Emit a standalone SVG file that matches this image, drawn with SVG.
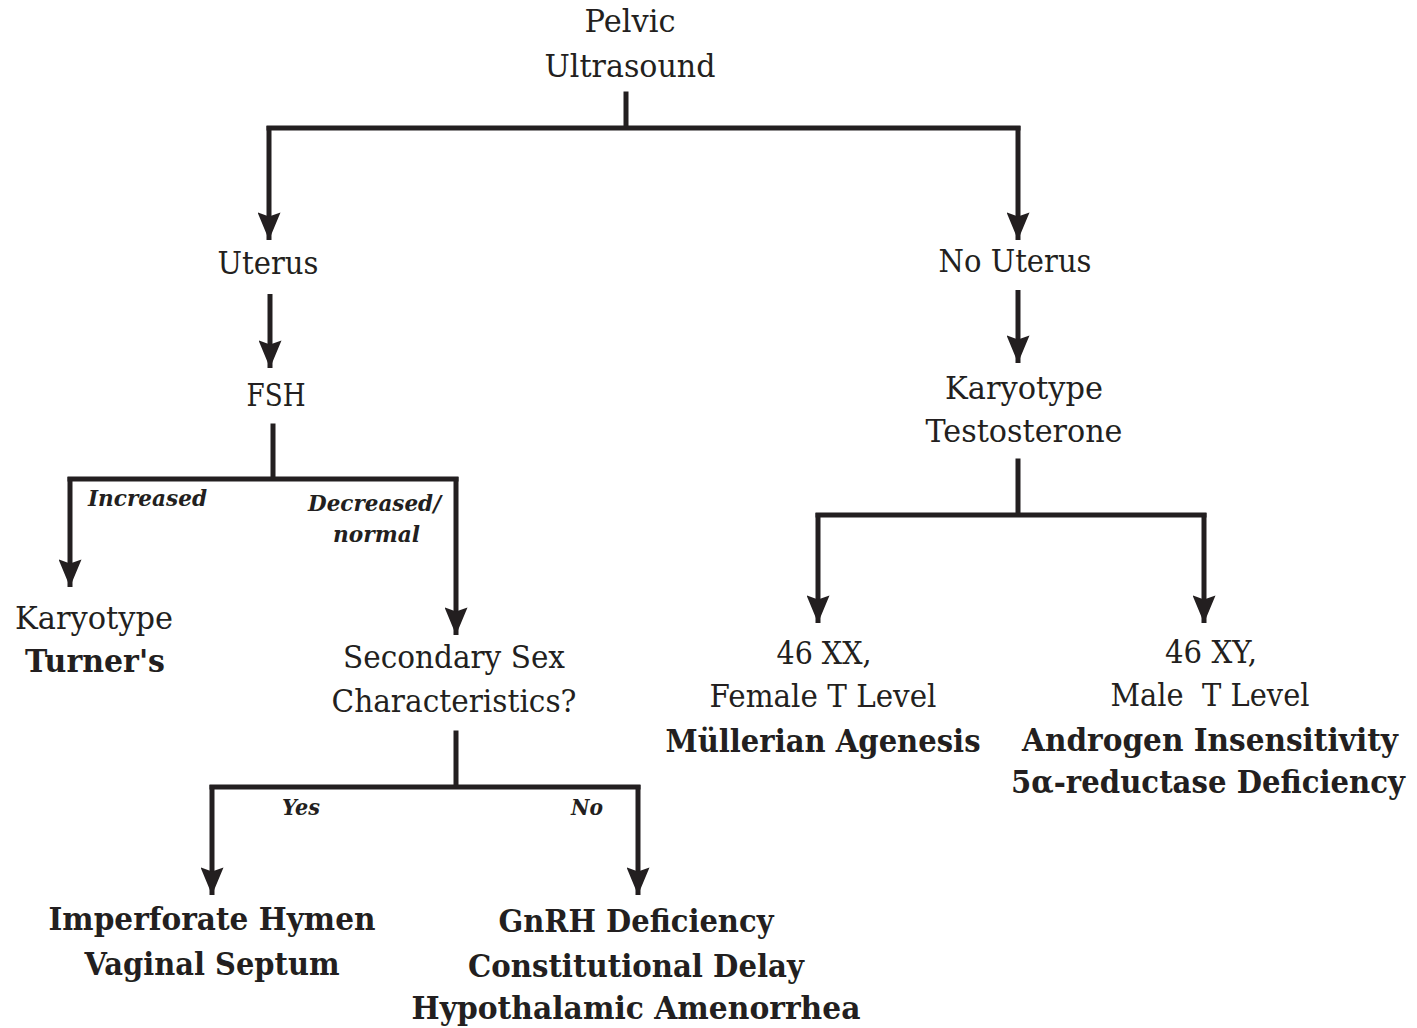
<svg xmlns="http://www.w3.org/2000/svg" width="1417" height="1028" viewBox="0 0 1417 1028">
  <style>
    text { font-family: "DejaVu Serif", "Liberation Serif", serif; fill: #231f20; text-anchor: middle; }
    .r { font-size: 31px; }
    .b { font-size: 31px; font-weight: bold; }
    .lbl { font-size: 22px; font-weight: bold; font-style: italic; text-anchor: start; }
    .ln { fill: none; stroke: #231f20; stroke-width: 5; stroke-linecap: square; }
    .ar { fill: none; stroke: #231f20; stroke-width: 5; stroke-linecap: butt; }
  </style>
  <defs>
    <marker id="ah" viewBox="0 0 12 10" refX="12" refY="5" markerWidth="6.4" markerHeight="4.6" markerUnits="strokeWidth" orient="auto">
      <path d="M0,0 L1.8,5 L0,10 L12,5 Z" fill="#231f20"/>
    </marker>
  </defs>

  <!-- connectors: trunk lines, bars and arrowed drops -->
  <g id="connectors">
    <path class="ln" d="M626,94 V128 M269,128 H1018"/>
    <path class="ar" d="M269,126 V240" marker-end="url(#ah)"/>
    <path class="ar" d="M1018,126 V240" marker-end="url(#ah)"/>
    <path class="ar" d="M270,294 V368" marker-end="url(#ah)"/>
    <path class="ar" d="M1018,290 V363" marker-end="url(#ah)"/>
    <path class="ln" d="M273,426 V479 M70,479 H456"/>
    <path class="ar" d="M70,477 V587" marker-end="url(#ah)"/>
    <path class="ar" d="M456,477 V635" marker-end="url(#ah)"/>
    <path class="ln" d="M1018,461 V515 M818,515 H1204"/>
    <path class="ar" d="M818,513 V623" marker-end="url(#ah)"/>
    <path class="ar" d="M1204,513 V623" marker-end="url(#ah)"/>
    <path class="ln" d="M456,733 V787 M212,787 H638"/>
    <path class="ar" d="M212,785 V895" marker-end="url(#ah)"/>
    <path class="ar" d="M638,785 V895" marker-end="url(#ah)"/>
  </g>

  <!-- branch labels -->
  <g id="branch-labels">
    <text class="lbl" x="88" y="506" textLength="119" lengthAdjust="spacingAndGlyphs">Increased</text>
    <text class="lbl" x="308" y="511" textLength="133" lengthAdjust="spacingAndGlyphs">Decreased/</text>
    <text class="lbl" x="333" y="542" textLength="87" lengthAdjust="spacingAndGlyphs">normal</text>
    <text class="lbl" x="282" y="815" textLength="38" lengthAdjust="spacingAndGlyphs">Yes</text>
    <text class="lbl" x="571" y="815" textLength="32" lengthAdjust="spacingAndGlyphs">No</text>
  </g>

  <g id="pelvic-ultrasound">
    <text class="r" x="630" y="32" textLength="91" lengthAdjust="spacingAndGlyphs">Pelvic</text>
    <text class="r" x="630" y="77" textLength="171" lengthAdjust="spacingAndGlyphs">Ultrasound</text>
  </g>
  <g id="uterus">
    <text class="r" x="268" y="274" textLength="101" lengthAdjust="spacingAndGlyphs">Uterus</text>
  </g>
  <g id="no-uterus">
    <text class="r" x="1015" y="272" textLength="153" lengthAdjust="spacingAndGlyphs">No Uterus</text>
  </g>
  <g id="fsh">
    <text class="r" x="276" y="406" textLength="59" lengthAdjust="spacingAndGlyphs">FSH</text>
  </g>
  <g id="karyotype-testosterone">
    <text class="r" x="1024" y="399" textLength="158" lengthAdjust="spacingAndGlyphs">Karyotype</text>
    <text class="r" x="1024" y="442" textLength="197" lengthAdjust="spacingAndGlyphs">Testosterone</text>
  </g>
  <g id="turners">
    <text class="r" x="94" y="629" textLength="158" lengthAdjust="spacingAndGlyphs">Karyotype</text>
    <text class="b" x="95" y="672" textLength="140" lengthAdjust="spacingAndGlyphs">Turner's</text>
  </g>
  <g id="secondary-sex">
    <text class="r" x="454" y="668" textLength="222" lengthAdjust="spacingAndGlyphs">Secondary Sex</text>
    <text class="r" x="454" y="712" textLength="245" lengthAdjust="spacingAndGlyphs">Characteristics?</text>
  </g>
  <g id="xx">
    <text class="r" x="824" y="664" textLength="95" lengthAdjust="spacingAndGlyphs">46 XX,</text>
    <text class="r" x="823" y="707" textLength="227" lengthAdjust="spacingAndGlyphs">Female T Level</text>
    <text class="b" x="823" y="752" textLength="315" lengthAdjust="spacingAndGlyphs">Müllerian Agenesis</text>
  </g>
  <g id="xy">
    <text class="r" x="1211" y="663" textLength="92" lengthAdjust="spacingAndGlyphs">46 XY,</text>
    <text class="r" x="1210" y="706" textLength="199" lengthAdjust="spacingAndGlyphs" style="white-space:pre">Male  T Level</text>
    <text class="b" x="1210" y="751" textLength="376" lengthAdjust="spacingAndGlyphs">Androgen Insensitivity</text>
    <text class="b" x="1208" y="793" textLength="394" lengthAdjust="spacingAndGlyphs">5α-reductase Deficiency</text>
  </g>
  <g id="outflow">
    <text class="b" x="212" y="930" textLength="327" lengthAdjust="spacingAndGlyphs">Imperforate Hymen</text>
    <text class="b" x="212" y="975" textLength="255" lengthAdjust="spacingAndGlyphs">Vaginal Septum</text>
  </g>
  <g id="central">
    <text class="b" x="636" y="932" textLength="275" lengthAdjust="spacingAndGlyphs">GnRH Deficiency</text>
    <text class="b" x="636" y="977" textLength="336" lengthAdjust="spacingAndGlyphs">Constitutional Delay</text>
    <text class="b" x="636" y="1019" textLength="449" lengthAdjust="spacingAndGlyphs">Hypothalamic Amenorrhea</text>
  </g>
</svg>
